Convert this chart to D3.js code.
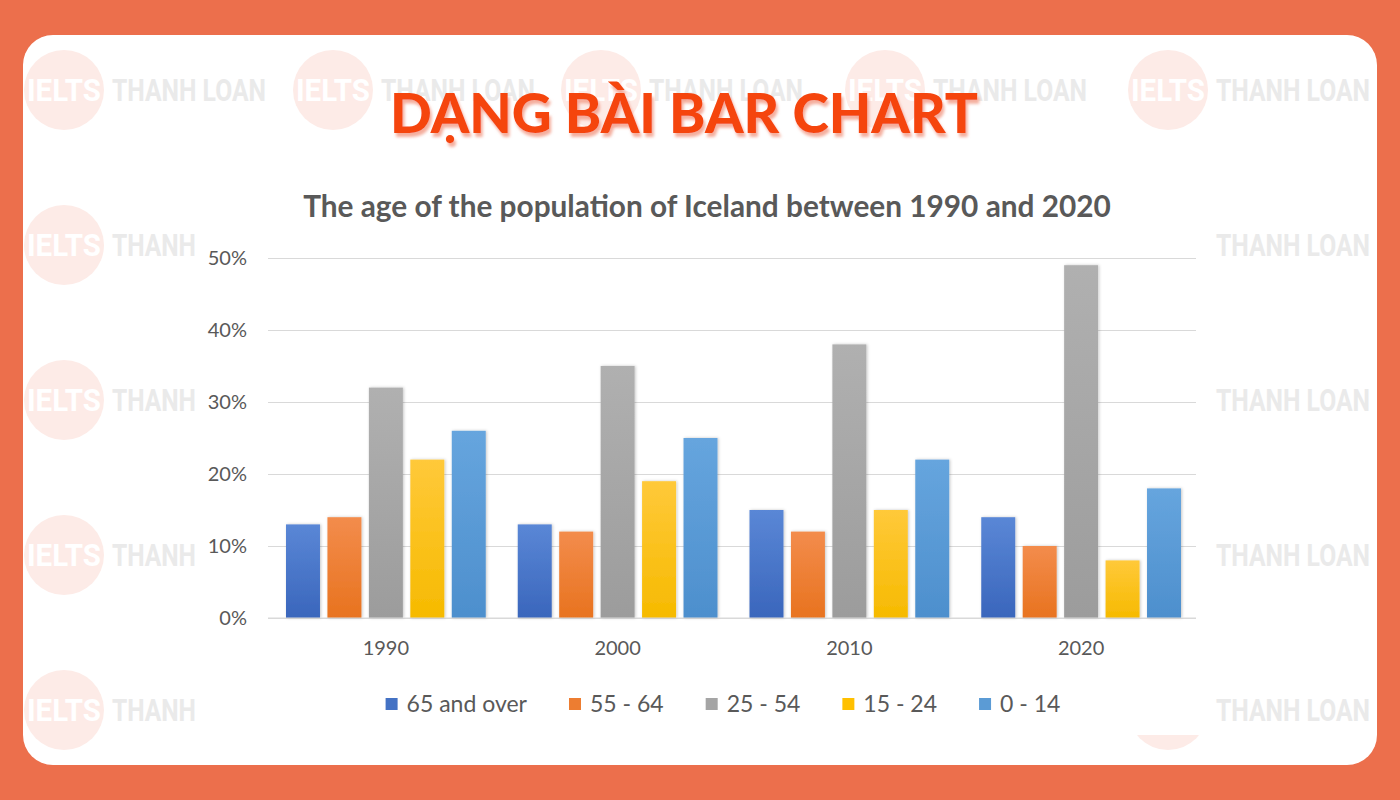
<!DOCTYPE html>
<html>
<head>
<meta charset="utf-8">
<script src="https://cdn.jsdelivr.net/npm/d3@7"></script>
<style>
  html, body { margin: 0; padding: 0; background: #EC6F4C; }
  svg { display: block; }
</style>
</head>
<body>
<svg id="chart" width="1400" height="800"></svg>
<script>
// ---------------- DATA ----------------
const years = ["1990", "2000", "2010", "2020"];
const seriesNames = ["65 and over", "55 - 64", "25 - 54", "15 - 24", "0 - 14"];
const age65plus = [13, 13, 15, 14];
const age55to64 = [14, 12, 12, 10];
const age25to54 = [32, 35, 38, 49];
const age15to24 = [22, 19, 15, 8];
const age0to14  = [26, 25, 22, 18];
const yTickValues = [0, 10, 20, 30, 40, 50];
const headline = "DẠNG BÀI BAR CHART";
const chartTitle = "The age of the population of Iceland between 1990 and 2020";
const watermarkLogo = "IELTS";
const watermarkName = "THANH LOAN";
const watermarkShort = "THANH";

const seriesValues = [age65plus, age55to64, age25to54, age15to24, age0to14];
const colors = ["#4472C4", "#ED7D31", "#A5A5A5", "#FFC000", "#5B9BD5"];
const topColors = ["#5A87D6", "#F38C4C", "#B0B0B0", "#FFC93A", "#66A5DE"];
const botColors = ["#3A66BC", "#E8731F", "#9C9C9C", "#F6BA00", "#4D8FCD"];

const svg = d3.select("#chart");
const W = 1400, H = 800;

function fitText(sel, target) {
  const node = sel.node();
  const fs = parseFloat(sel.attr("font-size"));
  const w = node.getComputedTextLength();
  if (w > 0) sel.attr("font-size", (fs * target / w).toFixed(2));
  return sel;
}

// ---------------- BACKGROUND ----------------
svg.append("rect").attr("width", W).attr("height", H).attr("fill", "#EC6F4C");
svg.append("rect")
  .attr("x", 23).attr("y", 35).attr("width", 1354).attr("height", 730)
  .attr("rx", 30).attr("ry", 30).attr("fill", "#ffffff");

const defs = svg.append("defs");

// ---------------- WATERMARKS ----------------
const wm = svg.append("g");
const wmRows = [90, 245, 400, 555, 710];
const wmTopCols = [64, 333, 601, 885, 1168];
const wmFont = "Roboto, 'Liberation Sans', sans-serif";
function condensedText(g, x, y, txt, width, fill) {
  // text fitted to width, then stretched vertically to look condensed
  const t = g.append("text").attr("x", 0).attr("y", 0)
    .attr("font-family", wmFont).attr("font-weight", "bold").attr("font-size", 30)
    .attr("fill", fill).text(txt);
  fitText(t, width);
  const fs = parseFloat(t.attr("font-size"));
  const k = 22 / (fs * 0.71);
  t.attr("transform", `translate(${x},${y}) scale(1,${k.toFixed(3)})`);
  return t;
}
function drawWatermark(cx, cy, opts) {
  const g = wm.append("g");
  g.append("circle").attr("cx", cx).attr("cy", cy).attr("r", 40).attr("fill", "#FDEBE7");
  if (opts.logo) condensedText(g, cx - 37, cy + 11, watermarkLogo, 74, "#ffffff");
  condensedText(g, cx + 48, cy + 11, opts.short ? watermarkShort : watermarkName, opts.short ? 84 : 154, "#EAEAEA");
}
wmTopCols.forEach(cx => drawWatermark(cx, wmRows[0], { logo: true, short: false }));
wmRows.slice(1).forEach(cy => {
  drawWatermark(64, cy, { logo: true, short: true });
  drawWatermark(1168, cy, { logo: false, short: false });
});

// ---------------- HEADLINE ----------------
const shadow = defs.append("filter").attr("id", "hshadow").attr("x", "-10%").attr("y", "-20%").attr("width", "120%").attr("height", "150%");
shadow.append("feDropShadow").attr("dx", 2).attr("dy", 4).attr("stdDeviation", 1.5)
  .attr("flood-color", "#F29A85").attr("flood-opacity", 0.8);
const hl = svg.append("text")
  .attr("x", 684).attr("y", 133).attr("text-anchor", "middle")
  .attr("font-family", "Lato, 'Open Sans', sans-serif").attr("font-weight", 900)
  .attr("font-size", 54).attr("fill", "#F5450E").attr("filter", "url(#hshadow)")
  .text(headline);
fitText(hl, 588);

// ---------------- CHART PANEL ----------------
svg.append("rect").attr("x", 198).attr("y", 168).attr("width", 1011).attr("height", 567).attr("fill", "#ffffff");

const ct = svg.append("text")
  .attr("x", 707).attr("y", 217).attr("text-anchor", "middle")
  .attr("font-family", "Lato, 'Open Sans', sans-serif").attr("font-weight", "bold")
  .attr("font-size", 25).attr("fill", "#595959").text(chartTitle);
fitText(ct, 808);

// scales
const plotL = 268, plotR = 1196, plotT = 258, plotB = 618;
const x0 = d3.scaleBand().domain(years).range([270, 1197]).padding(0);
const x1 = d3.scaleBand().domain(seriesNames).range([16, x0.bandwidth() - 16]).paddingInner(0.18);
const y = d3.scaleLinear().domain([0, 50]).range([plotB, plotT]);

// gridlines
const grid = svg.append("g").attr("class", "grid")
  .attr("transform", `translate(${plotL},0)`)
  .call(d3.axisLeft(y).tickValues(yTickValues).tickSize(-(plotR - plotL)).tickFormat(""));
grid.select(".domain").remove();
grid.selectAll(".tick line").attr("stroke", "#D9D9D9").attr("stroke-width", 1.2);

// y labels
const yAxis = svg.append("g").attr("transform", `translate(${plotL - 21},0)`)
  .call(d3.axisLeft(y).tickValues(yTickValues).tickSize(0).tickPadding(0).tickFormat(d => d + "%"));
yAxis.select(".domain").remove();
yAxis.selectAll("text").attr("font-family", "Lato, 'Open Sans', sans-serif")
  .attr("font-size", 20).attr("fill", "#595959");

// x labels
const xAxis = svg.append("g").attr("transform", `translate(0,${plotB})`)
  .call(d3.axisBottom(x0).tickSize(0).tickPadding(23));
xAxis.select(".domain").remove();
xAxis.selectAll("text").attr("font-family", "Lato, 'Open Sans', sans-serif")
  .attr("font-size", 20).attr("fill", "#595959");

// bar gradients & shadow
seriesNames.forEach((s, i) => {
  const g = defs.append("linearGradient").attr("id", "grad" + i)
    .attr("x1", 0).attr("y1", 0).attr("x2", 0).attr("y2", 1);
  g.append("stop").attr("offset", "0%").attr("stop-color", topColors[i]);
  g.append("stop").attr("offset", "100%").attr("stop-color", botColors[i]);
});
const bshadow = defs.append("filter").attr("id", "bshadow").attr("x", "-20%").attr("y", "-5%").attr("width", "140%").attr("height", "110%");
bshadow.append("feDropShadow").attr("dx", 1).attr("dy", 0).attr("stdDeviation", 1.6)
  .attr("flood-color", "#000").attr("flood-opacity", 0.22);

const rows = years.map((yr, j) => ({ year: yr, vals: seriesNames.map((s, i) => ({ s, i, v: seriesValues[i][j] })) }));
svg.append("g").selectAll("g").data(rows).join("g")
  .attr("transform", d => `translate(${x0(d.year)},0)`)
  .selectAll("rect").data(d => d.vals).join("rect")
  .attr("x", d => x1(d.s)).attr("width", x1.bandwidth())
  .attr("y", d => y(d.v)).attr("height", d => y(0) - y(d.v))
  .attr("fill", d => `url(#grad${d.i})`).attr("filter", "url(#bshadow)");

// baseline
svg.append("line").attr("x1", plotL).attr("x2", plotR).attr("y1", y(0)).attr("y2", y(0))
  .attr("stroke", "#D9D9D9").attr("stroke-width", 1.2);

// ---------------- LEGEND ----------------
const legend = svg.append("g").attr("transform", "translate(0,704)");
const items = legend.selectAll("g").data(seriesNames).join("g");
items.append("rect").attr("width", 12).attr("height", 12).attr("y", -6)
  .attr("fill", (d, i) => colors[i]);
items.append("text").attr("x", 21).attr("y", 8)
  .attr("font-family", "Lato, 'Open Sans', sans-serif").attr("font-size", 23)
  .attr("fill", "#595959").text(d => d);
const gap = 42;
let widths = [];
items.each(function() { widths.push(21 + d3.select(this).select("text").node().getComputedTextLength()); });
const total = d3.sum(widths) + gap * (widths.length - 1);
let cx = 723 - total / 2;
items.attr("transform", (d, i) => { const t = `translate(${cx},0)`; cx += widths[i] + gap; return t; });
</script>
</body>
</html>
